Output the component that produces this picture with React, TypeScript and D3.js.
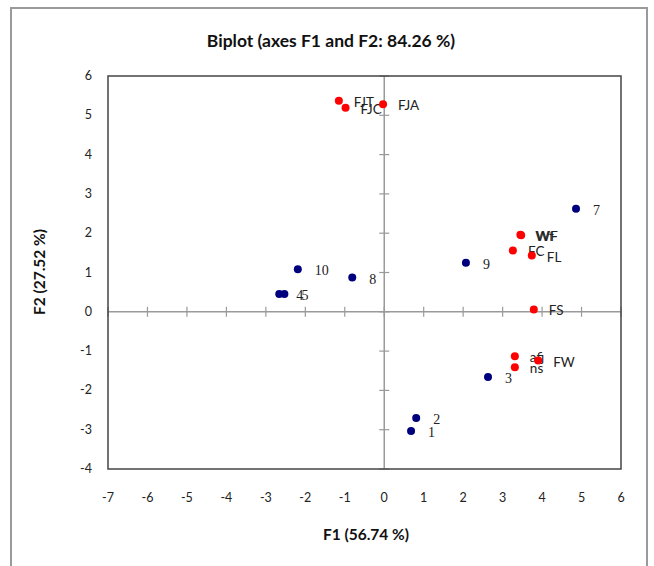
import React from "react";
import * as d3 from "d3";

const obsLabels = ["1", "2", "3", "4", "5", "7", "8", "9", "10"];
const obsF1 = [0.68, 0.81, 2.63, -2.66, -2.53, 4.86, -0.81, 2.07, -2.19];
const obsF2 = [-3.03, -2.7, -1.66, 0.45, 0.45, 2.62, 0.87, 1.25, 1.08];

const varLabels = ["FJT", "FJC", "FJA", "Wf", "WF", "FC", "FL", "FS", "afj", "ns", "FW"];
const varF1 = [-1.15, -0.98, -0.03, 3.45, 3.47, 3.26, 3.74, 3.79, 3.31, 3.31, 3.9];
const varF2 = [5.37, 5.19, 5.28, 1.96, 1.95, 1.56, 1.43, 0.06, -1.13, -1.41, -1.24];

const xTicks = [-7, -6, -5, -4, -3, -2, -1, 0, 1, 2, 3, 4, 5, 6];
const yTicks = [-4, -3, -2, -1, 0, 1, 2, 3, 4, 5, 6];

const title = "Biplot (axes F1 and F2: 84.26 %)";
const xTitle = "F1 (56.74 %)";
const yTitle = "F2 (27.52 %)";

const W = 654;
const H = 566;
const L = 108, R = 621, T = 76, B = 469;
const SANS = "Lato, 'Open Sans', sans-serif";
const SERIF = "'Liberation Serif', 'DejaVu Serif', serif";

export default function App() {
  const x = d3.scaleLinear().domain([-7, 6]).range([L, R]);
  const y = d3.scaleLinear().domain([-4, 6]).range([B, T]);
  const x0 = x(0);
  const y0 = y(0);
  return (
    <svg width={W} height={H} style={{ position: "absolute", left: 0, top: 0, background: "#fff" }}>
      <rect x={11} y={8} width={636} height={570} fill="#fff" stroke="#9a9a9a" strokeWidth={2} />
      <text x={331} y={47} textAnchor="middle" fontFamily={SANS} fontWeight="bold" fontSize={17.5} fill="#111">
        {title}
      </text>
      {/* center axes */}
      <line x1={L} x2={R} y1={y0} y2={y0} stroke="#9a9a9a" strokeWidth={1.5} />
      <line x1={x0} x2={x0} y1={T} y2={B} stroke="#9a9a9a" strokeWidth={1.5} />
      {xTicks.map((t) => (
        <line key={"xt" + t} x1={x(t)} x2={x(t)} y1={y0 - 5} y2={y0 + 5} stroke="#9a9a9a" strokeWidth={1.2} />
      ))}
      {yTicks.map((t) => (
        <line key={"yt" + t} x1={x0 - 5} x2={x0 + 5} y1={y(t)} y2={y(t)} stroke="#9a9a9a" strokeWidth={1.2} />
      ))}
      {/* frame */}
      <rect x={L} y={T} width={R - L} height={B - T} fill="none" stroke="#444" strokeWidth={1.5} />
      {/* tick labels */}
      {xTicks.map((t) => (
        <text key={"xl" + t} x={x(t)} y={B + 33} textAnchor="middle" fontFamily={SANS} fontSize={12.5} fill="#222">
          {t}
        </text>
      ))}
      {yTicks.map((t) => (
        <text key={"yl" + t} x={92} y={y(t) + 4} textAnchor="end" fontFamily={SANS} fontSize={12.5} fill="#222">
          {t}
        </text>
      ))}
      <text x={366} y={540} textAnchor="middle" fontFamily={SANS} fontWeight="bold" fontSize={15.5} fill="#111">
        {xTitle}
      </text>
      <text
        transform={`translate(45,${272}) rotate(-90)`}
        textAnchor="middle"
        fontFamily={SANS}
        fontWeight="bold"
        fontSize={15.5}
        fill="#111"
      >
        {yTitle}
      </text>
      {/* observations */}
      {obsLabels.map((lab, i) => (
        <g key={"o" + i}>
          <circle cx={x(obsF1[i])} cy={y(obsF2[i])} r={4} fill="#00007f" />
          <text x={x(obsF1[i]) + 17} y={y(obsF2[i]) + 6} fontFamily={SERIF} fontSize={14} fill="#222">
            {lab}
          </text>
        </g>
      ))}
      {/* variables */}
      {varLabels.map((lab, i) => (
        <g key={"v" + i}>
          <circle cx={x(varF1[i])} cy={y(varF2[i])} r={4} fill="#ff0000" />
          <text x={x(varF1[i]) + 15} y={y(varF2[i]) + 6} fontFamily={SANS} fontSize={13.5} fill="#222">
            {lab}
          </text>
        </g>
      ))}
    </svg>
  );
}
